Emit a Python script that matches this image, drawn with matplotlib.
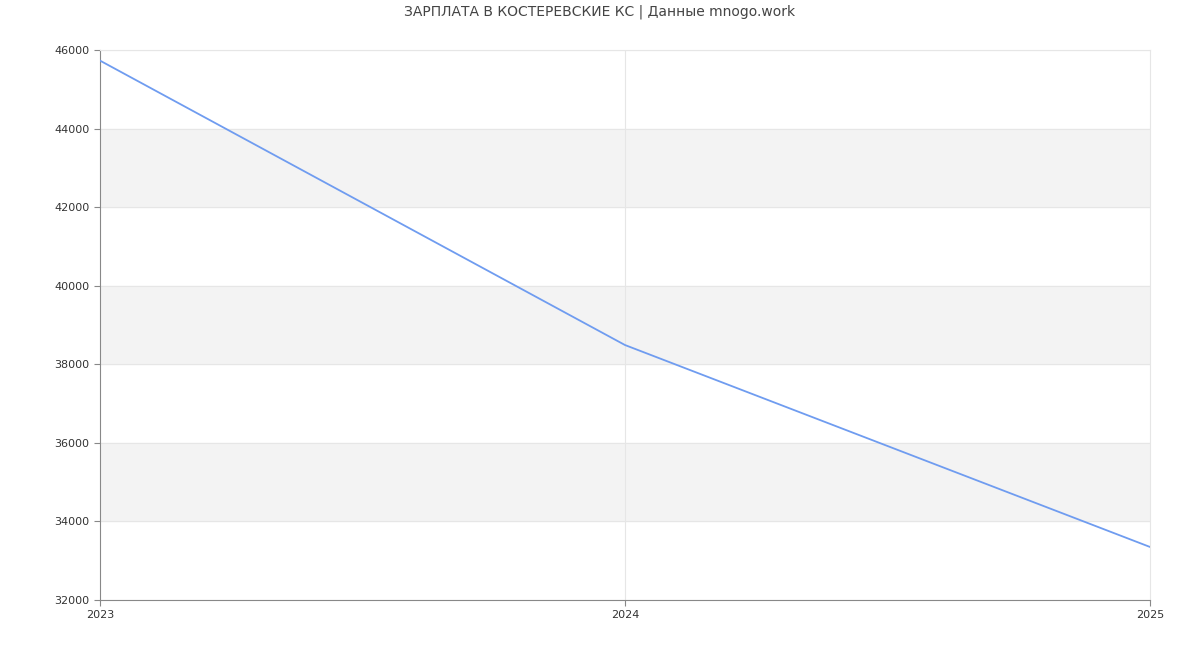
import matplotlib.pyplot as plt

years = [2023, 2024, 2025]
salary = [45730, 38490, 33350]
y_ticks = [32000, 34000, 36000, 38000, 40000, 42000, 44000, 46000]
bands = [(34000, 36000), (38000, 40000), (42000, 44000)]

fig = plt.figure(figsize=(12, 6.5), dpi=100)
ax = fig.add_axes([100 / 1200, 50 / 650, 1050 / 1200, 550 / 650])

for lo, hi in bands:
    ax.axhspan(lo, hi, color='#f3f3f3', zorder=0)
for t in y_ticks:
    ax.axhline(t, color='#e6e6e6', linewidth=0.8, zorder=1)
ax.axvline(2024, color='#e6e6e6', linewidth=0.8, zorder=1)

ax.plot(years, salary, color='#6f9cf0', linewidth=1.3, zorder=3)

ax.set_xlim(2023, 2025)
ax.set_ylim(32000, 46000)
ax.set_xticks(years)
ax.set_yticks(y_ticks)
ax.tick_params(labelsize=8, colors='#333333', length=4)
ax.tick_params(axis='both', color='#888888')
for side in ['top', 'right']:
    ax.spines[side].set_color('#e6e6e6')
for side in ['left', 'bottom']:
    ax.spines[side].set_color('#888888')

fig.suptitle('ЗАРПЛАТА В КОСТЕРЕВСКИЕ КС | Данные mnogo.work', y=0.993, fontsize=10, color='#444444')

plt.savefig('out.png')
